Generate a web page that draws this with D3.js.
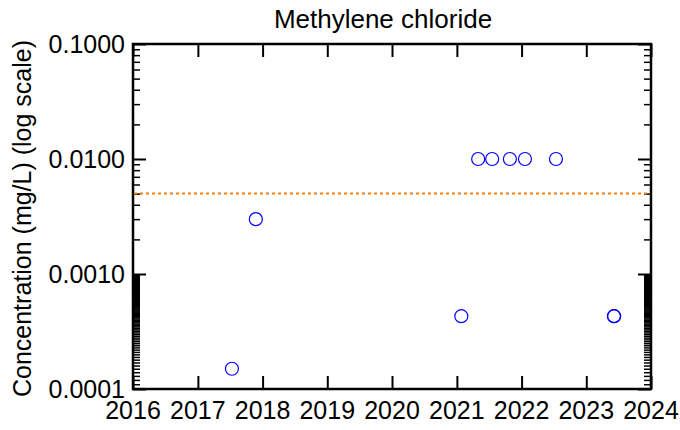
<!DOCTYPE html>
<html>
<head>
<meta charset="utf-8">
<script src="https://cdn.jsdelivr.net/npm/d3@7"></script>
<style>
    body { margin: 0; background: #fff; }
    svg text { font-family: "Liberation Sans", Arial, sans-serif; fill: #000; }
</style>
</head>
<body>
<div id="chart"></div>
<script>
const title = 'Methylene chloride';
const yLabel = 'Concentration (mg/L) (log scale)';

// sample dates and measured values
const sampleDates = ['2017-07-12', '2017-11-24', '2021-01-26', '2021-05-01', '2021-07-19',
    '2021-10-27', '2022-01-20', '2022-07-14', '2023-06-06', '2023-06-07'];
const concValues = [0.00015, 0.003, 0.00043, 0.01, 0.01, 0.01, 0.01, 0.01, 0.00043, 0.00043];

// regulatory limit (dotted line)
const limitValue = [0.005];

const yearTicks = [2016, 2017, 2018, 2019, 2020, 2021, 2022, 2023, 2024];
const yTicks = [0.0001, 0.001, 0.01, 0.1];

const width = 680, height = 430;
const margin = { top: 44, right: 29, bottom: 41, left: 133 };
const innerW = width - margin.left - margin.right,
    innerH = height - margin.top - margin.bottom;

const parse = d3.timeParse('%Y-%m-%d');
const points = sampleDates.map((d, i) => ({ date: parse(d), value: concValues[i] }));

const svg = d3.select('#chart')
    .append('svg')
    .attr('width', width)
    .attr('height', height);

const g = svg.append('g').attr('transform', `translate(${margin.left},${margin.top})`);

const x = d3.scaleTime()
    .domain([new Date(yearTicks[0], 0, 1), new Date(yearTicks[yearTicks.length - 1], 0, 1)])
    .range([0, innerW]);

const y = d3.scaleLog()
    .domain([yTicks[0], yTicks[yTicks.length - 1]])
    .range([innerH, 0]);

// minor ticks: 2..9 per decade, lowest decade gets the fine 1e-5 steps
let minorTicks = [];
for (let k = 1; k < yTicks.length - 1; k++) {
    for (let m = 2; m <= 9; m++) minorTicks.push(yTicks[k] * m);
}
for (let m = 11; m <= 99; m++) minorTicks.push(yTicks[0] * m / 10);

const yearDates = yearTicks.map(yr => new Date(yr, 0, 1));

// axes via d3-axis, inward ticks
const majorLen = 13, minorLen = 7;

function styleAxis(sel) {
    sel.select('.domain').remove();
    sel.selectAll('line').attr('stroke', '#000').attr('stroke-width', 2);
}

g.append('g').attr('class', 'y-minor-left')
    .call(d3.axisRight(y).tickValues(minorTicks).tickSize(minorLen).tickFormat(''))
    .call(styleAxis)
    .selectAll('line').attr('stroke-width', 1.5);

g.append('g').attr('class', 'y-minor-right')
    .attr('transform', `translate(${innerW},0)`)
    .call(d3.axisLeft(y).tickValues(minorTicks).tickSize(minorLen).tickFormat(''))
    .call(styleAxis)
    .selectAll('line').attr('stroke-width', 1.5);

g.append('g').attr('class', 'y-major-left')
    .call(d3.axisRight(y).tickValues(yTicks).tickSize(majorLen).tickFormat(''))
    .call(styleAxis);

g.append('g').attr('class', 'y-major-right')
    .attr('transform', `translate(${innerW},0)`)
    .call(d3.axisLeft(y).tickValues(yTicks).tickSize(majorLen).tickFormat(''))
    .call(styleAxis);

g.append('g').attr('class', 'x-bottom')
    .attr('transform', `translate(0,${innerH})`)
    .call(d3.axisTop(x).tickValues(yearDates).tickSize(majorLen).tickFormat(''))
    .call(styleAxis);

g.append('g').attr('class', 'x-top')
    .call(d3.axisBottom(x).tickValues(yearDates).tickSize(majorLen).tickFormat(''))
    .call(styleAxis);

// tick labels
g.append('g').selectAll('text')
    .data(yTicks)
    .join('text')
    .attr('x', -8)
    .attr('y', d => y(d))
    .attr('dy', '0.36em')
    .attr('text-anchor', 'end')
    .style('font-size', '25px')
    .text(d => d.toFixed(4));

g.append('g').selectAll('text')
    .data(yearDates)
    .join('text')
    .attr('x', d => x(d))
    .attr('y', innerH + 30)
    .attr('text-anchor', 'middle')
    .style('font-size', '25px')
    .text(d => d.getFullYear());

// frame
g.append('rect')
    .attr('width', innerW)
    .attr('height', innerH)
    .attr('fill', 'none')
    .attr('stroke', '#000')
    .attr('stroke-width', 2.5);

// limit line
g.selectAll('.limit')
    .data(limitValue)
    .join('line')
    .attr('class', 'limit')
    .attr('x1', 1).attr('x2', innerW - 1)
    .attr('y1', d => y(d)).attr('y2', d => y(d))
    .attr('stroke', '#ff7f0e')
    .attr('stroke-width', 2)
    .attr('stroke-dasharray', '3,3');

// samples
g.selectAll('.pt')
    .data(points)
    .join('circle')
    .attr('class', 'pt')
    .attr('cx', d => x(d.date))
    .attr('cy', d => y(d.value))
    .attr('r', 6.5)
    .attr('fill', 'none')
    .attr('stroke', '#0000ff')
    .attr('stroke-width', 1.2);

// titles
svg.append('text')
    .attr('x', 383)
    .attr('y', 28)
    .attr('text-anchor', 'middle')
    .style('font-size', '26px')
    .text(title);

svg.append('text')
    .attr('transform', `translate(31,${margin.top + innerH / 2 + 2}) rotate(-90)`)
    .attr('text-anchor', 'middle')
    .style('font-size', '25px')
    .text(yLabel);
</script>
</body>
</html>
